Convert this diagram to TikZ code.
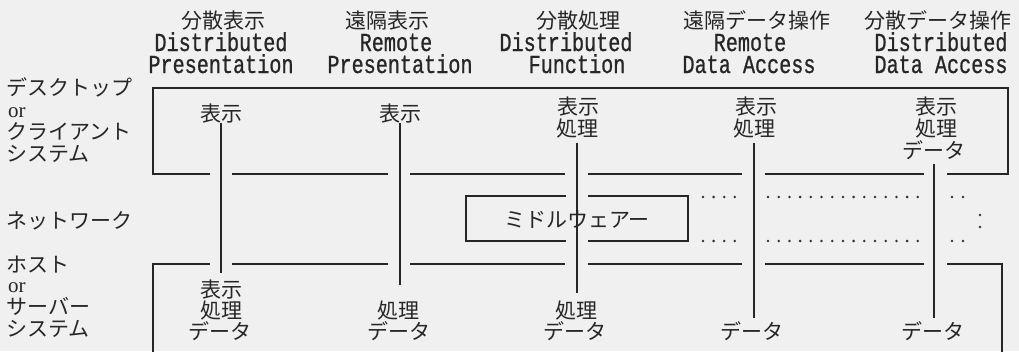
\documentclass[tikz,border=0pt]{standalone}
\usepackage{fontspec}
\setmainfont{Liberation Serif}
\setmonofont[FakeStretch=0.775,FakeBold=0.8]{Liberation Mono}
\newfontfamily\jp{Noto Sans CJK JP}
\begin{document}
\begin{tikzpicture}[x=1pt,y=-1pt,
  jt/.style={font=\jp\fontsize{21}{22}\selectfont, inner sep=0pt, text height=17pt, text depth=2pt, anchor=base, text=black!85},
  en/.style={font=\ttfamily\fontsize{26}{22}\selectfont, inner sep=0pt, text height=16pt, text depth=1pt, anchor=base, text=black!85},
  lab/.style={jt, anchor=base west},
  orl/.style={font=\fontsize{21}{22}\selectfont, inner sep=0pt, text height=10pt, text depth=0pt, anchor=base west, text=black!85},
  bx/.style={line width=1.7pt, draw=black!85},
  vl/.style={line width=2.6pt, draw=black!85},
  dots/.style={line width=2.8pt, line cap=round, draw=black!80}
]
\fill[black!6] (0,0) rectangle (1019,351);
\useasboundingbox (0,0) rectangle (1019,351);

% headers
\node[jt] (h1j) at (223,28) {分散表示};
\node[en] (h1a) at (221,51) {Distributed};
\node[en] (h1b) at (221,73) {Presentation};
\node[jt] (h2j) at (387,28) {遠隔表示};
\node[en] (h2a) at (396,51) {Remote};
\node[en] (h2b) at (400,73) {Presentation};
\node[jt] (h3j) at (578,28) {分散処理};
\node[en] (h3a) at (566,51) {Distributed};
\node[en] (h3b) at (577,73) {Function};
\node[jt] (h4j) at (757,28) {遠隔データ操作};
\node[en] (h4a) at (750,51) {Remote};
\node[en] (h4b) at (749,73) {Data Access};
\node[jt] (h5j) at (938,28) {分散データ操作};
\node[en] (h5a) at (941,51) {Distributed};
\node[en] (h5b) at (941,73) {Data Access};

% left labels
\node[lab] (l1) at (6,95) {デスクトップ};
\node[orl] (l2) at (8,117) {or};
\node[lab] (l3) at (6,139) {クライアント};
\node[lab] (l4) at (6,161) {システム};
\node[lab] (l5) at (6,228) {ネットワーク};
\node[lab] (l6) at (6,272) {ホスト};
\node[orl] (l7) at (8,292) {or};
\node[lab] (l8) at (6,314) {サーバー};
\node[lab] (l9) at (6,336) {システム};

% top box
\draw[bx] (210,174) -- (153,174) -- (153,88) -- (1008,88) -- (1008,174) -- (947,174);
\foreach \a/\b in {232/388, 410/565, 588/742, 765/924}
  \draw[bx] (\a,174) -- (\b,174);
% bottom box
\draw[bx] (153,352) -- (153,264) -- (210,264);
\foreach \a/\b in {232/388, 410/565, 588/742, 765/924}
  \draw[bx] (\a,264) -- (\b,264);
\draw[bx] (947,264) -- (1002,264) -- (1002,352);

% middleware box
\draw[bx] (566,196) -- (466,196) -- (466,241) -- (566,241);
\draw[bx] (588,196) -- (688,196) -- (688,241) -- (588,241);
\node[jt] (mw) at (577,227) {ミドルウェアー};

% dotted continuation
\foreach \y in {197,241}{
  \draw[dots, dash pattern=on 0pt off 10.6pt] (703,\y) -- (738,\y);
  \draw[dots, dash pattern=on 0pt off 10.7pt] (768,\y) -- (919,\y);
  \draw[dots, dash pattern=on 0pt off 11pt] (952,\y) -- (964,\y);
}
\fill[black!80] (980,215) circle (1.4) (980,227) circle (1.4);

% column texts
\node[jt] (c1t) at (221,121) {表示};
\node[jt] (c1b1) at (221,297) {表示};
\node[jt] (c1b2) at (221,318) {処理};
\node[jt] (c1b3) at (220,339) {データ};

\node[jt] (c2t) at (400,121) {表示};
\node[jt] (c2b1) at (398,318) {処理};
\node[jt] (c2b2) at (399,339) {データ};

\node[jt] (c3t1) at (578,114) {表示};
\node[jt] (c3t2) at (577,136) {処理};
\node[jt] (c3b1) at (576,318) {処理};
\node[jt] (c3b2) at (575,339) {データ};

\node[jt] (c4t1) at (756,114) {表示};
\node[jt] (c4t2) at (754,136) {処理};
\node[jt] (c4b) at (752,339) {データ};

\node[jt] (c5t1) at (936,114) {表示};
\node[jt] (c5t2) at (936,136) {処理};
\node[jt] (c5t3) at (934,158) {データ};
\node[jt] (c5b) at (933,339) {データ};

% vertical lines
\draw[vl, shorten >=7pt] (c1t.south) -- (c1t.south |- c1b1.north);
\draw[vl, shorten >=16pt] (c2t.south) -- (c2t.south |- c2b1.north);
\draw[vl, shorten <=5pt, shorten >=8pt] (c3t2.south) -- (c3t2.south |- c3b1.north);
\draw[vl, shorten <=5pt, shorten >=4pt] (c4t2.south) -- (c4t2.south |- c4b.north);
\draw[vl, shorten <=4pt, shorten >=4pt] (c5t3.south) -- (c5t3.south |- c5b.north);
\end{tikzpicture}
\end{document}
